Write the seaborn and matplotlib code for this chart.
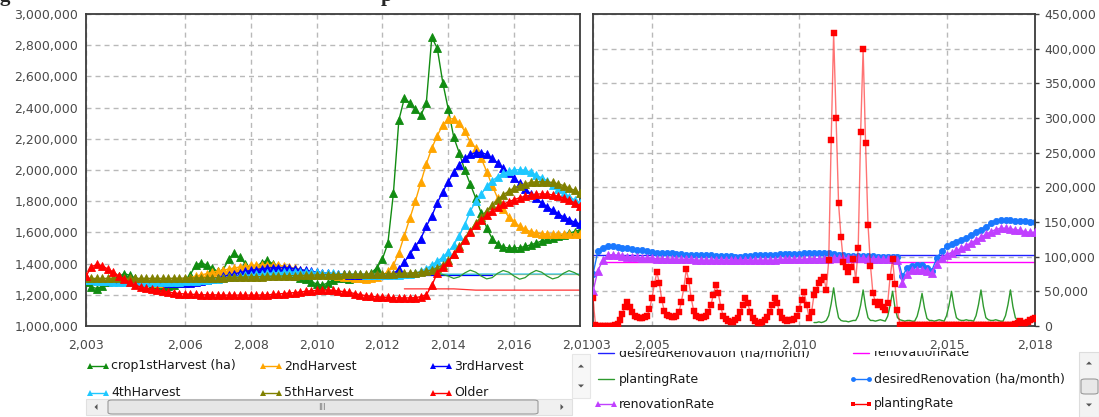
import numpy as np
import pandas as pd
import matplotlib
matplotlib.use("Agg")
import matplotlib.pyplot as plt
import seaborn as sns
from matplotlib.ticker import FuncFormatter, FixedLocator
from matplotlib.transforms import Bbox, TransformedBbox
from matplotlib.patches import Rectangle, FancyBboxPatch, Polygon

W, H = 1099, 417

# ---------------- data ----------------
# left chart: area by crop age, sampled every two months 2003 -> 2018 (thousand ha)
t_bi = 2003 + np.arange(91) / 6
crop1st_k = [1280, 1250, 1240, 1255, 1280, 1300,
             1320, 1335, 1325, 1305, 1290, 1280,
             1265, 1255, 1250, 1255, 1265, 1275,
             1285, 1330, 1390, 1405, 1390, 1370,
             1350, 1360, 1430, 1465, 1440, 1400,
             1375, 1380, 1405, 1420, 1400, 1370,
             1345, 1330, 1320, 1310, 1300, 1285,
             1270, 1262, 1275, 1295, 1305, 1305,
             1300, 1305, 1310, 1320, 1340, 1375,
             1430, 1530, 1850, 2320, 2460, 2430,
             2390, 2350, 2430, 2850, 2780, 2560,
             2390, 2210, 2110, 2000, 1910, 1820,
             1725, 1630, 1560, 1525, 1505, 1500,
             1500, 1502, 1510, 1520, 1532, 1545,
             1555, 1565, 1575, 1585, 1595, 1605,
             1615]
harvest2_k = [1300, 1295, 1290, 1288, 1290, 1292,
              1295, 1298, 1300, 1298, 1292, 1285,
              1280, 1276, 1275, 1276, 1280, 1290,
              1300, 1310, 1320, 1328, 1335, 1345,
              1352, 1358, 1365, 1372, 1378, 1384,
              1388, 1390, 1392, 1392, 1390, 1388,
              1385, 1378, 1370, 1362, 1355, 1348,
              1342, 1336, 1330, 1325, 1320, 1316,
              1312, 1308, 1305, 1303, 1305, 1312,
              1325, 1350, 1390, 1470, 1580, 1690,
              1800, 1920, 2040, 2140, 2220, 2290,
              2325, 2330, 2300, 2250, 2180, 2140,
              2075, 1990, 1900, 1820, 1750, 1700,
              1665, 1640, 1620, 1605, 1597, 1592,
              1590, 1590, 1590, 1590, 1590, 1590,
              1590]
harvest3_k = [1300, 1297, 1294, 1292, 1290, 1288,
              1287, 1286, 1285, 1284, 1283, 1282,
              1281, 1280, 1279, 1278, 1277, 1276,
              1276, 1278, 1282, 1288, 1295, 1302,
              1310, 1318, 1326, 1334, 1342, 1350,
              1356, 1362, 1367, 1371, 1374, 1375,
              1375, 1372, 1368, 1362, 1356, 1350,
              1346, 1342, 1338, 1335, 1333, 1331,
              1330, 1329, 1328, 1328, 1327, 1327,
              1327, 1328, 1335, 1365, 1410, 1460,
              1510, 1560, 1640, 1705, 1790, 1860,
              1925, 1985, 2035, 2075, 2100, 2112,
              2112, 2100, 2075, 2045, 2010, 1980,
              1948, 1915, 1880, 1848, 1818, 1790,
              1765, 1742, 1720, 1700, 1682, 1666,
              1655]
harvest4_k = [1295, 1293, 1290, 1288, 1286, 1285,
              1284, 1283, 1282, 1281, 1280, 1280,
              1280, 1280, 1280, 1281, 1282, 1284,
              1286, 1288, 1290, 1293, 1296, 1300,
              1304, 1308, 1312, 1316, 1320, 1324,
              1328, 1331, 1334, 1337, 1340, 1342,
              1344, 1345, 1346, 1346, 1345, 1344,
              1343, 1341, 1339, 1337, 1335, 1334,
              1333, 1332, 1331, 1330, 1330, 1330,
              1330, 1330, 1330, 1330, 1331, 1333,
              1338, 1350, 1368, 1390, 1415, 1442,
              1475, 1520, 1580, 1650, 1735, 1800,
              1845, 1895, 1930, 1958, 1978, 1992,
              2000, 2002, 1998, 1985, 1968, 1950,
              1930, 1905, 1880, 1855, 1830, 1808,
              1788]
harvest5_k = [1305, 1305, 1305, 1305, 1305, 1305,
              1305, 1305, 1305, 1305, 1305, 1305,
              1305, 1305, 1305, 1305, 1306, 1306,
              1307, 1307, 1308, 1308, 1309, 1309,
              1310, 1310, 1311, 1312, 1313, 1314,
              1315, 1316, 1317, 1318, 1319, 1320,
              1321, 1322, 1323, 1324, 1325, 1326,
              1327, 1328, 1329, 1330, 1330, 1331,
              1331, 1332, 1332, 1333, 1333, 1334,
              1334, 1335, 1336, 1337, 1338, 1340,
              1342, 1346, 1352, 1360, 1372, 1392,
              1420, 1460, 1510, 1560, 1610, 1660,
              1700, 1740, 1775, 1810, 1840, 1865,
              1885, 1900, 1912, 1920, 1924, 1925,
              1924, 1920, 1912, 1900, 1885, 1870,
              1853]
older_k = [1320, 1380, 1395, 1385, 1365, 1345,
           1320, 1300, 1280, 1262, 1250, 1242,
           1235, 1230, 1225, 1218, 1212, 1208,
           1205, 1203, 1202, 1200, 1200, 1200,
           1199, 1198, 1198, 1198, 1198, 1198,
           1198, 1198, 1199, 1200, 1202, 1205,
           1208, 1211, 1214, 1218, 1222, 1226,
           1228, 1230, 1230, 1228, 1224, 1220,
           1215, 1208, 1200, 1195, 1190, 1187,
           1185, 1183, 1181, 1180, 1180, 1180,
           1182, 1188, 1200, 1260, 1340, 1380,
           1410, 1460, 1500, 1550, 1600, 1645,
           1680, 1710, 1735, 1760, 1780, 1796,
           1810, 1822, 1832, 1840, 1845, 1847,
           1846, 1840, 1832, 1822, 1808, 1790,
           1772]

# thin reference-run lines on the left chart, 2011 -> 2018 (bimonthly)
t_thin = t_bi[48:]
ref1st_k = [1310, 1312, 1315, 1318, 1320, 1322,
            1322, 1320, 1318, 1316, 1318, 1322,
            1328, 1335, 1342, 1345, 1340, 1330,
            1320, 1305, 1315, 1340, 1358, 1345,
            1320, 1302, 1310, 1338, 1356, 1345,
            1320, 1300, 1310, 1338, 1356, 1345,
            1320, 1302, 1312, 1338, 1355, 1342,
            1322]
ref2nd_k = [1331, 1331, 1331, 1331, 1331, 1331,
            1331, 1331, 1331, 1331, 1331, 1331,
            1331, 1331, 1331, 1331, 1331, 1331,
            1331, 1331, 1331, 1331, 1331, 1331,
            1331, 1331, 1331, 1331, 1331, 1331,
            1331, 1331, 1331, 1331, 1331, 1331,
            1331, 1331, 1331, 1331, 1331, 1331,
            1331]
ref4th_k = [1332, 1332, 1332, 1332, 1332, 1332,
            1332, 1332, 1332, 1332, 1332, 1332,
            1332, 1332, 1332, 1332, 1332, 1332,
            1332, 1332, 1332, 1332, 1332, 1332,
            1333, 1333, 1333, 1333, 1333, 1333,
            1333, 1333, 1333, 1333, 1333, 1333,
            1333, 1333, 1333, 1333, 1333, 1333,
            1333]
ref3rd_k = [1328, 1328, 1328, 1328, 1328, 1328,
            1328, 1328, 1328, 1328, 1328, 1328,
            1328, 1328, 1328, 1328, 1328, 1328,
            1328, 1328, 1328, 1328, 1328, 1328,
            1328, 1328, 1328]
# thin "older" line, from late 2012 on
t_thin_older = t_bi[58:]
refolder_k = [1238, 1238,
              1238, 1238, 1238, 1238, 1238, 1238,
              1238, 1238, 1236, 1234, 1232, 1230,
              1230, 1230, 1230, 1230, 1230, 1230,
              1230, 1230, 1230, 1230, 1230, 1230,
              1230, 1230, 1230, 1230, 1230, 1230,
              1230]

# right chart: rates (thousand ha/month)
desired_reno_k = [75, 108, 113, 115, 115, 114,
                  113, 112, 111, 110, 109, 108,
                  107, 106, 106, 105, 105, 104,
                  104, 103, 103, 103, 102, 102,
                  102, 101, 101, 101, 101, 100,
                  100, 101, 101, 102, 102, 103,
                  103, 103, 104, 104, 104, 104,
                  104, 105, 105, 105, 105, 105,
                  105, 104, 103, 102, 101, 101,
                  101, 101, 101, 101, 100, 100,
                  100, 100, 99, 72, 84, 86,
                  88, 88, 84, 80, 98, 108,
                  115, 118, 121, 124, 127, 131,
                  135, 139, 143, 148, 152, 153,
                  153, 153, 152, 152, 151, 150,
                  150]
renovation_k = [50, 80, 95, 102, 103, 102,
                101, 100, 99, 99, 98, 98,
                98, 97, 97, 97, 96, 96,
                96, 96, 96, 95, 95, 95,
                95, 95, 95, 95, 95, 95,
                95, 95, 95, 95, 95, 95,
                95, 95, 96, 96, 96, 96,
                96, 96, 97, 97, 97, 97,
                97, 98, 98, 98, 98, 98,
                98, 98, 97, 97, 97, 96,
                96, 96, 95, 62, 75, 81,
                81, 81, 80, 76, 90, 98,
                103, 106, 109, 112, 116, 120,
                124, 128, 132, 136, 139, 141,
                141, 140, 139, 138, 136, 135,
                135]
# monthly planting rate 2003 -> 2018
t_mo = 2003 + np.arange(181) / 12
planting_k = [40, 2, 0, 0, 0, 0, 0, 0, 0, 1, 3, 8,
              18, 28, 35, 28, 20, 15, 13, 12, 12, 13, 15, 24,
              40, 60, 78, 62, 38, 22, 16, 14, 13, 13, 15, 20,
              35, 55, 82, 65, 40, 22, 15, 13, 12, 13, 15, 20,
              30, 45, 59, 48, 28, 15, 10, 7, 6, 6, 8, 12,
              20, 30, 40, 33, 20, 12, 7, 5, 5, 6, 8, 13,
              20, 30, 40, 33, 20, 12, 8, 7, 8, 9, 10, 14,
              25, 38, 49, 30, 12, 20, 45, 52, 62, 66, 71, 52,
              95, 268, 422, 300, 177, 128, 92, 85, 78, 85, 97, 66,
              112, 280, 399, 264, 146, 87, 47, 35, 30, 35, 28, 23,
              33, 71, 96, 60, 23, 1, 1, 1, 1, 1, 1, 1,
              1, 1, 1, 1, 1, 1, 1, 1, 1, 1, 1, 1,
              1, 1, 1, 1, 1, 1, 1, 1, 1, 1, 1, 1,
              1, 1, 1, 1, 1, 1, 1, 1, 1, 1, 1, 1,
              1, 1, 2, 2, 3, 5, 7, 5, 4, 6, 8, 10,
              12]
# second-run planting rate, monthly from mid 2010
t_mo_late = t_mo[90:]
planting_ref_k = [5, 5, 6, 5, 6, 8,
                  15, 32, 55, 30, 12, 8, 7, 7, 6, 7, 8, 8,
                  15, 30, 52, 28, 12, 8, 8, 7, 8, 9, 8, 7,
                  14, 30, 50, 26, 12, 9, 8, 7, 8, 8, 7, 7,
                  14, 28, 47, 26, 11, 8, 8, 7, 8, 9, 8, 7,
                  15, 30, 50, 28, 12, 9, 8, 8, 9, 8, 8, 7,
                  15, 31, 52, 28, 12, 9, 8, 8, 9, 8, 7, 7,
                  15, 31, 52, 28, 12, 8, 8, 7, 8, 7, 7, 6,
                  8]
desired_ref_t = [2003.0, 2018.0]
desired_ref_k = [102, 102]
renovation_ref_t = [2003.3, 2018.0]
renovation_ref_k = [93, 93]

left_xticks = [2003, 2006, 2008, 2010, 2012, 2014, 2016, 2018]
right_xticks = [2003, 2005, 2010, 2015, 2018]

# ---------------- style ----------------
sns.set_theme(style="white")
plt.rcParams["font.family"] = ["DejaVu Sans"]
TICK_C = "#4a4a4a"
SPINE_C = "#3c3c3c"
GRID_KW = dict(color="#b9b9b9", linewidth=1.0, linestyle=(0, (3.6, 2.9)))


def pr(x0, y0, x1, y1):
    """pixel box (top-left origin) -> figure fraction rect"""
    return [x0 / W, 1 - y1 / H, (x1 - x0) / W, (y1 - y0) / H]


def draw(ax, t, v, color, marker=None, ms=4.5, lw=1.0, alpha=1.0, z=2):
    sns.lineplot(x=np.asarray(t), y=np.asarray(v, dtype=float) * 1000, ax=ax,
                 color=color, marker=marker, markersize=ms, markeredgewidth=0.6,
                 markeredgecolor=color, linewidth=lw, alpha=alpha, zorder=z,
                 legend=False, errorbar=None)


comma = FuncFormatter(lambda v, p: f"{int(round(v)):,}")

fig = plt.figure(figsize=(W / 100, H / 100), dpi=100)
fig.patch.set_facecolor("white")

ax_l = fig.add_axes(pr(86, 14, 580, 326))
ax_r = fig.add_axes(pr(593, 14, 1035, 326))

# ---- left chart ----
draw(ax_l, t_thin_older, refolder_k, "#ff3030", lw=0.9, z=1)
draw(ax_l, t_thin, ref2nd_k, "#ffa500", lw=0.9, z=1)
draw(ax_l, t_thin[:27], ref3rd_k, "#0000ff", lw=0.9, z=1)
draw(ax_l, t_thin, ref4th_k, "#1ec8ff", lw=0.9, z=1)
draw(ax_l, t_thin, ref1st_k, "#2e9a2e", lw=0.9, z=1)

left_series = [(crop1st_k, "#118c11"), (harvest2_k, "#ffa500"),
               (harvest3_k, "#0000ff"), (harvest4_k, "#1ec8ff"),
               (harvest5_k, "#808000"), (older_k, "#ff0000")]
for vals, col in left_series:
    draw(ax_l, t_bi, vals, col, marker="^", ms=5.2, lw=1.0, z=3)

ax_l.set_xlim(2003, 2018)
ax_l.set_ylim(1_000_000, 3_000_000)
ax_l.yaxis.set_major_locator(FixedLocator(np.arange(1_000_000, 3_000_001, 200_000)))
ax_l.xaxis.set_major_locator(FixedLocator(left_xticks))

# ---- right chart ----
draw(ax_r, desired_ref_t, desired_ref_k, "#2020ff", lw=1.0, z=1)
draw(ax_r, renovation_ref_t, renovation_ref_k, "#ff00ff", lw=1.0, z=1)
draw(ax_r, t_mo_late, planting_ref_k, "#2e9a2e", lw=1.0, z=1)
draw(ax_r, t_bi, desired_reno_k, "#1a78ff", marker="o", ms=4.4, lw=1.0, z=2)
draw(ax_r, t_bi, renovation_k, "#c040ff", marker="^", ms=5.2, lw=1.0, z=3)
sns.lineplot(x=t_mo, y=np.asarray(planting_k, dtype=float) * 1000, ax=ax_r,
             color=(1, 0, 0, 0.55), marker="s", markersize=3.8,
             markerfacecolor="#ff0000", markeredgecolor="#ff0000",
             markeredgewidth=0.3, linewidth=1.0, zorder=4, legend=False, errorbar=None)

ax_r.set_xlim(2003, 2018)
ax_r.set_ylim(0, 450_000)
ax_r.yaxis.set_major_locator(FixedLocator(np.arange(0, 450_001, 50_000)))
ax_r.xaxis.set_major_locator(FixedLocator(right_xticks))
ax_r.yaxis.tick_right()

for ax in (ax_l, ax_r):
    ax.set_facecolor("white")
    ax.set_xlabel("")
    ax.set_ylabel("")
    ax.xaxis.set_major_formatter(comma)
    ax.yaxis.set_major_formatter(comma)
    ax.grid(True, **GRID_KW)
    for s in ax.spines.values():
        s.set_visible(True)
        s.set_color(SPINE_C)
        s.set_linewidth(1.3)
    ax.tick_params(axis="both", which="major", direction="out", length=3,
                   width=1, color=SPINE_C, labelcolor=TICK_C, labelsize=9)
    ax.tick_params(axis="x", pad=6)
    ax.tick_params(axis="y", pad=2.5)
ax_r.tick_params(axis="y", left=False, right=True, labelleft=False, labelright=True, pad=3.5)

# the two chart panels are separate widgets: tick labels get cut at x=590
fig.canvas.draw()
left_clip = TransformedBbox(Bbox([[0, 0], [590 / W, 1]]), fig.transFigure)
right_clip = TransformedBbox(Bbox([[590 / W, 0], [1, 1]]), fig.transFigure)
for tk in ax_l.xaxis.get_major_ticks():
    tk.label1.set_clip_box(left_clip)
    tk.label1.set_clip_on(True)
for tk in ax_r.xaxis.get_major_ticks():
    tk.label1.set_clip_box(right_clip)
    tk.label1.set_clip_on(True)

# ---- cut-off title (only descenders visible) ----
for x, ch in [(0, "g"), (381, "p")]:
    fig.text(x / W, 1 - 1 / H, ch, fontsize=15, fontweight="bold",
             family=["Liberation Serif", "DejaVu Serif"], va="baseline", ha="left")


# ---- legend panels ----
def legend_panel(box, entries):
    lax = fig.add_axes(pr(*box))
    lax.set_xlim(box[0], box[2])
    lax.set_ylim(box[3], box[1])
    lax.axis("off")
    for x, y, label, color, marker, ms in entries:
        lax.plot([x, x + 16], [y, y], color=color, marker=marker, ms=ms, lw=1.0,
                 markeredgewidth=0, clip_on=True)
        lax.text(x + 21, y, label, va="center", ha="left", fontsize=9,
                 color="#1a1a1a", clip_on=True)
    return lax


legend_panel((80, 353, 571, 397), [
    (90, 366, "crop1stHarvest (ha)", "#118c11", "^", 4.5),
    (263, 366, "2ndHarvest", "#ffa500", "^", 4.5),
    (433, 366, "3rdHarvest", "#0000ff", "^", 4.5),
    (90, 393, "4thHarvest", "#1ec8ff", "^", 4.5),
    (263, 393, "5thHarvest", "#808000", "^", 4.5),
    (433, 393, "Older", "#ff0000", "^", 4.5),
])
legend_panel((593, 351, 1077, 417), [
    (598, 353, "desiredRenovation (ha/month)", "#2020ff", None, 0),
    (853, 353, "renovationRate", "#ff00ff", None, 0),
    (598, 379, "plantingRate", "#2e9a2e", None, 0),
    (853, 379, "desiredRenovation (ha/month)", "#1a78ff", "o", 3.5),
    (598, 404, "renovationRate", "#c040ff", "^", 4.5),
    (853, 404, "plantingRate", "#ff0000", "s", 3.5),
])


# ---- scrollbars (decoration of the original GUI) ----
def box(x0, y0, x1, y1, fc, ec, rounded=False):
    if rounded:
        p = FancyBboxPatch((x0 / W, 1 - y1 / H), (x1 - x0) / W, (y1 - y0) / H,
                           boxstyle="round,pad=0,rounding_size=0.004",
                           transform=fig.transFigure, fc=fc, ec=ec, lw=0.8)
    else:
        p = Rectangle((x0 / W, 1 - y1 / H), (x1 - x0) / W, (y1 - y0) / H,
                      transform=fig.transFigure, fc=fc, ec=ec, lw=0.8)
    fig.add_artist(p)


def arrow(cx, cy, d, s=3.0):
    if d == "up":
        pts = [(cx - s, cy + s / 2), (cx + s, cy + s / 2), (cx, cy - s / 2)]
    elif d == "down":
        pts = [(cx - s, cy - s / 2), (cx + s, cy - s / 2), (cx, cy + s / 2)]
    elif d == "left":
        pts = [(cx + s / 2, cy - s), (cx + s / 2, cy + s), (cx - s / 2, cy)]
    else:
        pts = [(cx - s / 2, cy - s), (cx - s / 2, cy + s), (cx + s / 2, cy)]
    fig.add_artist(Polygon([(x / W, 1 - y / H) for x, y in pts], closed=True,
                           transform=fig.transFigure, fc="#555555", ec="none"))


# left panel: horizontal bar + vertical arrows
box(86, 399, 572, 415, "#f0f0f0", "#e0e0e0")
box(108, 400, 538, 414, "#e6e6e6", "#9a9a9a", rounded=True)
fig.text(322 / W, 1 - 407 / H, "III", fontsize=6, color="#777777", ha="center", va="center")
arrow(96, 407, "left")
arrow(562, 407, "right")
box(572, 354, 590, 398, "#f7f7f7", "#e6e6e6")
arrow(581, 366, "up")
arrow(581, 386, "down")

# right panel: vertical bar
box(1079, 352, 1099, 417, "#f3f3f3", "#dddddd")
box(1081, 379, 1098, 394, "#e8e8e8", "#9a9a9a", rounded=True)
arrow(1089, 363, "up")
arrow(1089, 405, "down")

fig.savefig("out.png", dpi=100, facecolor="white")
